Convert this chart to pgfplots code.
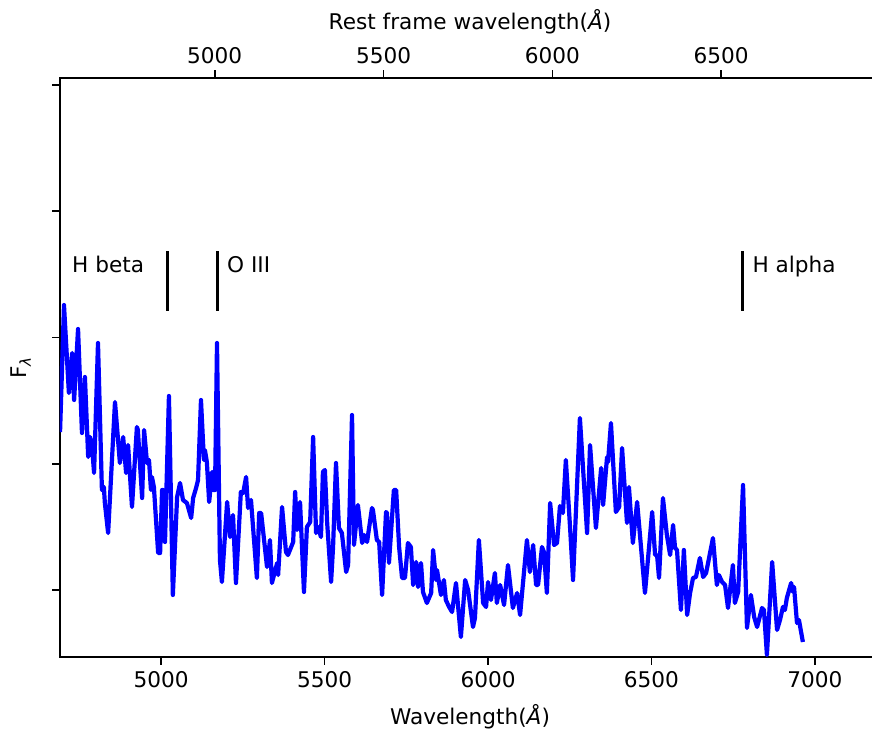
\documentclass[border=0pt]{standalone}
\usepackage{fontspec}
\setmainfont{DejaVu Sans}
\usepackage{pgfplots}
\pgfplotsset{compat=1.18}
\usepackage{pgfplotstable}
\pgfplotstableread{
wl flux
4691 225
4703 352
4718 264
4728 304
4734 257
4746 328
4758 224
4767 280
4777 200
4783 220
4789 210
4795 184
4807 314
4819 167
4825 170
4828 154
4838 124
4859 255
4874 194
4884 220
4893 184
4899 212
4911 150
4926 230
4929 227
4942 159
4948 227
4957 194
4963 197
4969 167
4972 180
4978 170
4991 104
4997 104
5003 167
5006 167
5012 115
5024 261
5036 62
5049 160
5058 174
5067 157
5079 154
5092 139
5098 159
5107 169
5113 177
5122 257
5131 197
5134 207
5140 195
5147 155
5156 185
5159 167
5165 167
5171 314
5180 97
5186 75
5202 155
5211 120
5220 142
5229 74
5244 165
5251 164
5260 180
5266 149
5275 157
5293 79
5300 144
5306 144
5324 90
5333 117
5339 74
5355 94
5358 82
5370 150
5382 105
5388 102
5404 115
5410 165
5416 127
5425 155
5437 65
5446 130
5456 135
5465 220
5474 124
5480 130
5489 120
5495 185
5501 187
5508 134
5520 75
5526 110
5535 194
5544 129
5553 124
5566 85
5572 92
5584 242
5590 112
5602 152
5615 114
5621 122
5630 115
5645 149
5648 147
5660 117
5667 115
5676 62
5688 145
5691 144
5697 94
5712 167
5719 167
5728 110
5737 79
5746 79
5755 114
5764 110
5771 72
5780 95
5786 70
5795 94
5801 65
5813 54
5826 64
5832 107
5841 77
5844 87
5856 62
5865 77
5871 57
5881 50
5890 45
5902 74
5917 20
5930 77
5939 67
5954 30
5960 39
5972 117
5985 54
5994 50
6000 75
6009 57
6021 84
6027 54
6037 72
6049 52
6061 92
6076 49
6089 64
6098 42
6119 117
6128 85
6138 112
6147 72
6153 72
6165 110
6171 105
6180 64
6190 154
6202 112
6211 114
6220 151
6229 144
6238 197
6251 129
6260 77
6281 239
6303 124
6312 212
6330 129
6346 189
6352 152
6364 200
6367 195
6376 234
6391 145
6401 150
6410 209
6425 134
6431 170
6443 114
6456 155
6480 64
6502 145
6511 102
6517 102
6523 79
6535 159
6547 122
6557 102
6566 132
6572 109
6578 107
6590 47
6599 107
6609 42
6618 64
6627 79
6636 80
6648 99
6658 80
6667 84
6688 119
6700 72
6706 82
6716 75
6725 72
6734 49
6749 92
6755 54
6765 65
6780 172
6792 29
6804 62
6814 40
6823 30
6838 49
6844 47
6853 2
6869 95
6884 27
6893 37
6902 50
6908 47
6914 59
6927 74
6933 65
6936 70
6945 34
6951 37
6963 15
}\spectrum
\begin{document}
\begin{tikzpicture}
\pgfplotsset{every axis/.append style={
  font=\fontsize{10.85}{13}\selectfont,
  axis line style={line width=0.87bp, black},
  every tick/.style={line width=0.87bp, black},
  major tick length=3.8bp,
  tick align=outside,
  minor tick num=0,
}}
\begin{axis}[
  at={(0,0)}, anchor=south west,
  scale only axis, width=410bp, height=289.5bp,
  xmin=4690.8, xmax=7198.9, ymin=0, ymax=579,
  xtick={5000,5500,6000,6500,7000},
  xticklabels={5000,5500,6000,6500,7000},
  ytick={67,193.25,319.5,445.75,572},
  yticklabels={},
  xtick pos=bottom, ytick pos=left,
  xlabel={Wavelength(\textit{Å})},
  xlabel style={at={(axis description cs:0.5,-0.1036)}, anchor=center},
  ylabel={F\textsubscript{\textit{λ}}},
  ylabel style={at={(axis description cs:-0.0476,0.5)}, anchor=center},
]
\addplot[color={rgb,255:red,0;green,0;blue,255}, line width=2.1bp, line join=round, mark=none] table[x=wl, y=flux] {\spectrum};
\addplot[black, line width=1.75bp, mark=none] coordinates {(5020,346) (5020,406)};
\addplot[black, line width=1.75bp, mark=none] coordinates {(5172,346) (5172,406)};
\addplot[black, line width=1.75bp, mark=none] coordinates {(6779,346) (6779,406)};
\node[anchor=base west, inner sep=0pt] at (axis cs:4727,384) {H beta};
\node[anchor=base west, inner sep=0pt] at (axis cs:5201,384) {O III};
\node[anchor=base west, inner sep=0pt] at (axis cs:6808,384) {H alpha};
\end{axis}
\begin{axis}[
  at={(0,0)}, anchor=south west,
  scale only axis, width=410bp, height=289.5bp,
  xmin=4541.8, xmax=6970.3, ymin=0, ymax=579,
  axis x line*=top, axis y line=none,
  x axis line style={-},
  xtick={5000,5500,6000,6500},
  xticklabels={5000,5500,6000,6500},
  xlabel={Rest frame wavelength(\textit{Å})},
  xlabel style={at={(axis description cs:0.5,1.0967)}, anchor=center},
]
\end{axis}
\pgfresetboundingbox
\path[use as bounding box] (-30bp,-38.5bp) rectangle (406bp,328.5bp);
\end{tikzpicture}
\end{document}
